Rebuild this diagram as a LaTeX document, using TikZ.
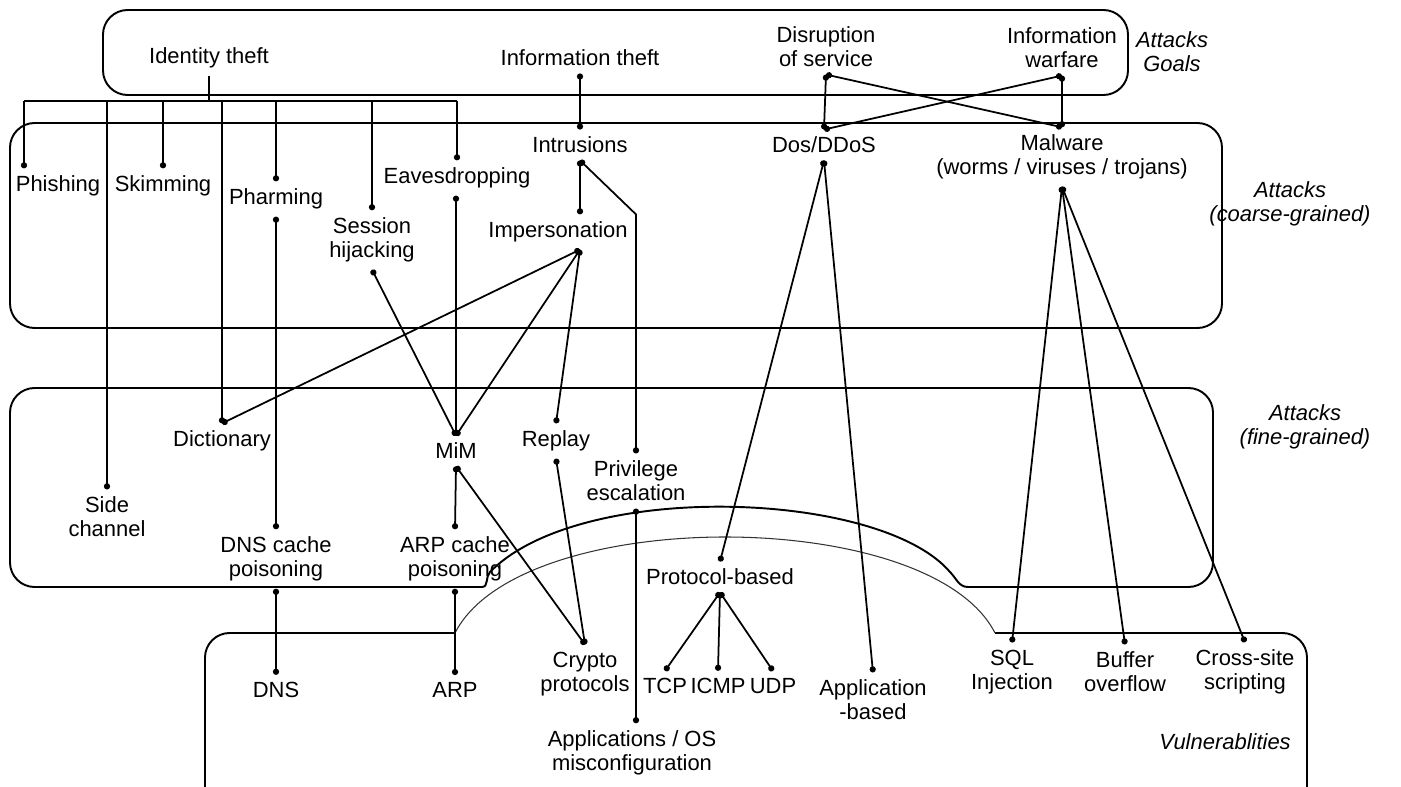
\documentclass[tikz,border=0pt]{standalone}
\usepackage{fontspec}
\setmainfont{Liberation Sans}
\usetikzlibrary{arrows.meta,positioning}

\begin{document}
\begin{tikzpicture}[x=0.02cm, y=-0.02cm,
    every node/.style={font=\fontsize{12.5}{13.8}\selectfont, align=center, inner sep=4pt},
    layer/.style={font=\fontsize{12.5}{13.8}\selectfont\itshape, align=center},
    frame/.style={line width=1.1pt, rounded corners=14},
    link/.style={line width=1pt, {Circle[length=3.5pt]}-{Circle[length=3.5pt]}},
    drop/.style={line width=1pt, -{Circle[length=3.5pt]}}]

    \useasboundingbox (0,0) rectangle (1401,787);

    % layer frames
    \draw[frame] (103,10) rectangle (1128,95);
    \draw[frame] (10,123) rectangle (1222,328);
    \draw[frame] (482,587) -- (10,587) -- (10,388) -- (1213,388) -- (1213,587) -- (968,587);
    \draw[line width=1.1pt] (968,587) to[out=180,in=-45] (950,572)
        .. controls (880,490) and (580,480) .. (490,572) to[out=-135,in=0] (482,587);
    \draw[frame] (205,787) -- (205,633) -- (455,633);
    \draw[frame] (995,633) -- (1307,633) -- (1307,787);
    \draw[line width=0.6pt, black!80] (455,633) .. controls (520,505) and (930,505) .. (995,633);

    % goals
    \node (idt) at (209,58) {Identity theft};
    \node (inft) at (580,58) {Information theft};
    \node (disr) at (826,47) {Disruption\\of service};
    \node (infw) at (1062,48) {Information\\warfare};
    \node[layer] (lgoal) at (1172,52) {Attacks\\Goals};

    % coarse-grained attacks
    \node (phish) at (58,186) {Phishing};
    \node (skim) at (163,186) {Skimming};
    \node (pharm) at (276,199) {Pharming};
    \node (sess) at (372,240) {Session\\hijacking};
    \node (eaves) at (457,178) {Eavesdropping};
    \node (intr) at (580,145) {Intrusions};
    \node (imp) at (558,232) {Impersonation};
    \node (dos) at (824,145) {Dos/DDoS};
    \node (mal) at (1062,157) {Malware\\(worms / viruses / trojans)};
    \node[layer] (lcoarse) at (1290,204) {Attacks\\(coarse-grained)};

    % fine-grained attacks
    \node (dict) at (222,441) {Dictionary};
    \node (mim) at (456,451) {MiM};
    \node (replay) at (556,441) {Replay};
    \node (priv) at (636,481) {Privilege\\escalation};
    \node (side) at (107,517) {Side\\channel};
    \node (dnsp) at (276,559) {DNS cache\\poisoning};
    \node (arpp) at (455,559) {ARP cache\\poisoning};
    \node (proto) at (720,577) {Protocol-based};
    \node[layer] (lfine) at (1305,427) {Attacks\\(fine-grained)};

    % vulnerabilities
    \node (dns) at (276,690) {DNS};
    \node (arp) at (455,690) {ARP};
    \node (crypto) at (585,674) {Crypto\\protocols};
    \node (tcp) at (665,686) {TCP};
    \node (icmp) at (718,686) {ICMP};
    \node (udp) at (773,686) {UDP};
    \node (appb) at (873,700) {Application\\-based};
    \node (sql) at (1012,672) {SQL\\Injection};
    \node (buf) at (1125,672) {Buffer\\overflow};
    \node (xss) at (1245,672) {Cross-site\\scripting};
    \node (appos) at (632,753) {Applications / OS\\misconfiguration};
    \node[layer] (lvuln) at (1225,742) {Vulnerablities};

    % identity theft bus
    \coordinate (busl) at (24,101);
    \coordinate (busr) at (457,101);
    \draw[line width=1pt] (idt.south) -- (idt.south |- busl);
    \draw[line width=1pt] (busl) -- (busr);
    \draw[drop] (busl) -- (busl |- phish.north);
    \foreach \n in {side, skim, dict, pharm, sess, eaves} {
        \draw[drop] (\n.north |- busl) -- (\n.north);
    }

    % goals to attacks
    \draw[link] (inft.south) -- (intr.north);
    \draw[link] (disr.south) -- (dos.north);
    \draw[link] (disr.south) -- (mal.north);
    \draw[link] (infw.south) -- (mal.north);
    \draw[link] (infw.south) -- (dos.north);

    % intrusions
    \draw[link] (intr.south) -- (intr.south |- imp.north);
    \draw[link] (intr.south) -- (priv.north |- imp.north) -- (priv.north);
    \foreach \n in {dict, mim, replay} {
        \draw[link] (imp.south -| intr.south) -- (\n.north);
    }
    \draw[link] (sess.south) -- (mim.north);
    \draw[link] (eaves.south -| mim.north) -- (mim.north);
    \draw[link] (pharm.south) -- (pharm.south |- dnsp.north);

    % fine-grained to vulnerabilities
    \draw[link] (mim.south) -- (arpp.north);
    \draw[link] (mim.south) -- (crypto.north);
    \draw[link] (replay.south) -- (crypto.north);
    \draw[link] (priv.south) -- (priv.south |- appos.north);
    \draw[link] (dnsp.south) -- (dns.north);
    \draw[link] (arpp.south) -- (arp.north);

    % denial of service
    \draw[link] (dos.south) -- (proto.north);
    \draw[link] (dos.south) -- (appb.north);
    \foreach \n in {tcp, icmp, udp} {
        \draw[link] (proto.south) -- (\n.north);
    }

    % malware
    \foreach \n in {sql, buf, xss} {
        \draw[link] (mal.south) -- (\n.north);
    }
\end{tikzpicture}
\end{document}
